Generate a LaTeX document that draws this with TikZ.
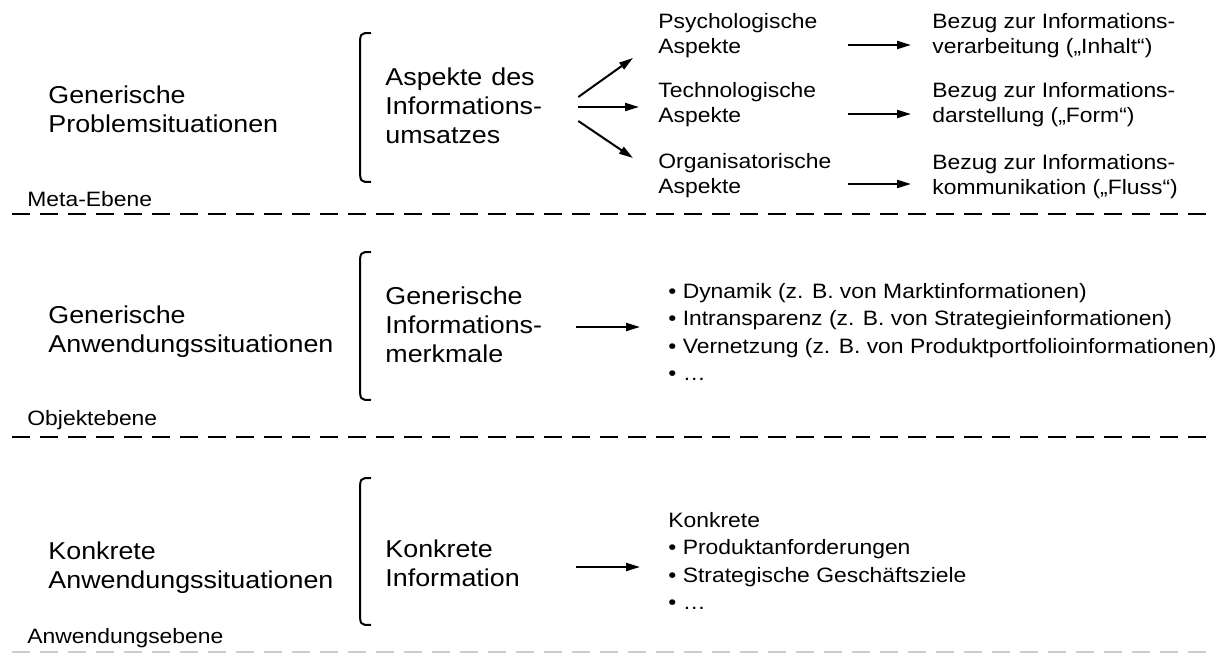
\documentclass[tikz,border=0pt]{standalone}
\usepackage{fontspec}
\setmainfont{Liberation Sans}
\usetikzlibrary{arrows.meta}
\newcommand\bigfont{\fontsize{12.2}{14.5}\selectfont}
\newcommand\smallfont{\fontsize{10.4}{12.5}\selectfont}
\newcommand\listfont{\fontsize{10.4}{13.6}\selectfont}
\def\sidebrace(#1,#2,#3){\draw[brace] ({#1+11},#2) .. controls (#1,#2) .. (#1,{#2+15}) -- (#1,{#3-15}) .. controls (#1,#3) .. ({#1+11},#3);}

\tikzset{
  big/.style={font=\bigfont, align=left, anchor=west, inner sep=0pt, xscale=1.1},
  sml/.style={font=\smallfont, align=left, anchor=west, inner sep=0pt, xscale=1.1},
  lst/.style={font=\listfont, align=left, anchor=west, inner sep=0pt, xscale=1.1},
  mid/.style={big, text width=72pt},
  aspect/.style={sml, text width=81pt},
  arr/.style={line width=1pt, -{Triangle[length=7pt,width=4pt]}},
  brace/.style={line width=1pt},
  layerline/.style={line width=1pt, dash pattern=on 9pt off 5pt},
}

\begin{document}
\begin{tikzpicture}[x=0.5pt, y=-0.5pt]
		\useasboundingbox (0,0) rectangle (1223,657);
		
		%%%%% META-EBENE %%%%%
		
		\node[big] (genprob) at (48,109) {Generische\\Problemsituationen};
		\sidebrace(360,33,182)
		\node[mid] (asp) at (385,106) {Aspekte des\\Informations-\\umsatzes};
		
		\node[aspect] (psy) at (658,36) {Psychologische\\Aspekte};
		\node[aspect] (tech) at (658,105) {Technologische\\Aspekte};
		\node[aspect] (org) at (658,176) {Organisatorische\\Aspekte};
		
		\draw[arr] ([shift={(34,-9)}]asp.east) -- ([shift={(-25,22)}]psy.west);
		\draw[arr] ([shift={(34,1)}]asp.east) -- ([shift={(-19,2)}]tech.west);
		\draw[arr] ([shift={(34,15)}]asp.east) -- ([shift={(-25,-18)}]org.west);
		
		\node[sml] (bez1) at (932,36) {Bezug zur Informations-\\verarbeitung („Inhalt“)};
		\node[sml] (bez2) at (932,105) {Bezug zur Informations-\\darstellung („Form“)};
		\node[sml] (bez3) at (932,177) {Bezug zur Informations-\\kommunikation („Fluss“)};
		
		\draw[arr, shorten <=5.5pt, shorten >=10.5pt] ([yshift=-4.5pt]psy.east) -- ([yshift=-4.5pt]psy.east -| bez1.west);
		\draw[arr, shorten <=5.5pt, shorten >=10.5pt] ([yshift=-4.5pt]tech.east) -- ([yshift=-4.5pt]tech.east -| bez2.west);
		\draw[arr, shorten <=5.5pt, shorten >=10.5pt] ([yshift=-4pt]org.east) -- ([yshift=-4pt]org.east -| bez3.west);
		
		\node[sml] (meta) at (27,199) {Meta-Ebene};
		\draw[layerline] (12,214) -- (1215,214);
		
		%%%%% OBJEKTEBENE %%%%%
		
		\node[big] (genanw) at (48,332) {Generische\\Anwendungssituationen};
		\sidebrace(360,252,400)
		\node[mid] (merk) at (385,325) {Generische\\Informations-\\merkmale};
		\node[lst] (merklist) at (668,332) {• Dynamik (z. B. von Marktinformationen)\\
			• Intransparenz (z. B. von Strategieinformationen)\\
			• Vernetzung (z. B. von Produktportfolioinformationen)\\
			• …};
		\draw[arr, shorten <=16pt, shorten >=14pt] ([yshift=-1pt]merk.east) -- ([yshift=-1pt]merk.east -| merklist.west);
		
		\node[sml] (obj) at (27,420) {Objektebene};
		\draw[layerline] (12,437) -- (1215,437);
		
		%%%%% ANWENDUNGSEBENE %%%%%
		
		\node[big] (konanw) at (48,568) {Konkrete\\Anwendungssituationen};
		\sidebrace(360,478,625)
		\node[mid] (koninf) at (385,563) {Konkrete\\Information};
		\node[lst] (konlist) at (668,561) {Konkrete\\
			• Produktanforderungen\\
			• Strategische Geschäftsziele\\
			• …};
		\draw[arr, shorten <=16pt, shorten >=14pt] ([yshift=-2pt]koninf.east) -- ([yshift=-2pt]koninf.east -| konlist.west);
		
		\node[sml] (anw) at (27,638) {Anwendungsebene};
		\draw[layerline, black!20] (12,652) -- (1215,652);
		
		%%%%% END %%%%%
	\end{tikzpicture}
\end{document}
